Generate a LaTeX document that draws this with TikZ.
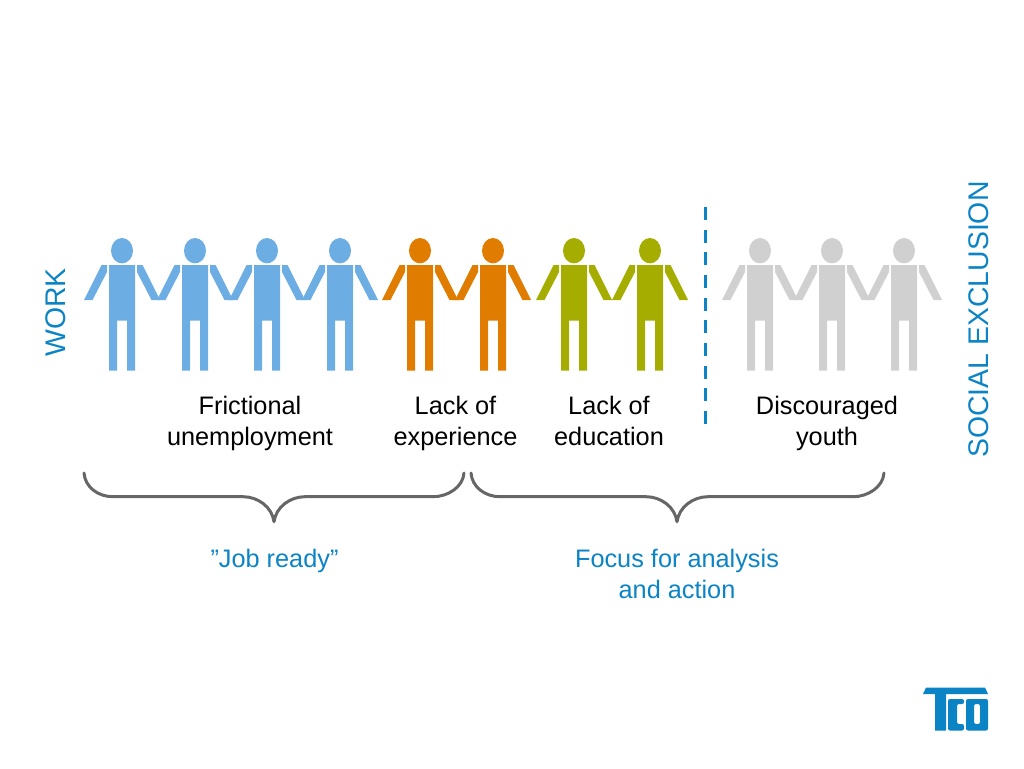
\documentclass[tikz,border=0pt]{standalone}
\usepackage{fontspec}
\setmainfont{Liberation Sans}
\usetikzlibrary{calc}

\definecolor{skyfig}{HTML}{6CADE3}
\definecolor{orangefig}{HTML}{E07C00}
\definecolor{greenfig}{HTML}{A5AD00}
\definecolor{greyfig}{HTML}{D0D0D0}
\definecolor{tcoblue}{HTML}{0B84C6}
\definecolor{bracegrey}{HTML}{666666}

\begin{document}
\begin{tikzpicture}[
  x=1pt,
  y=-1pt,
  line cap=butt,
  label/.style={align=center,font=\fontsize{25.3}{31}\selectfont,text=black,inner sep=0pt},
  bluelabel/.style={label,text=tcoblue},
  sidelabel/.style={bluelabel,rotate=90,font=\fontsize{28.4}{34}\selectfont},
  mybrace/.style={bracegrey,line width=3pt,line cap=round,line join=round}
]
\useasboundingbox (0,0) rectangle (1024,768);

% people: centre x / colour
\foreach \cx/\col in {122/skyfig,195/skyfig,267/skyfig,340/skyfig,
                      420/orangefig,493/orangefig,
                      574/greenfig,650/greenfig,
                      760/greyfig,832/greyfig,904/greyfig} {
  \begin{scope}[shift={(\cx,0)}]
    \fill [\col] (0,250.7) ellipse[x radius=11,y radius=12.7];
    \fill [\col] (-13,265) -- (13,265) -- (13,370.7) -- (5,370.7) -- (5,320.7)
      -- (-5,320.7) -- (-5,370.7) -- (-13,370.7) -- cycle;
    \fill [\col] (-20.5,265) -- (-15,265) -- (-15,272) -- (-29.5,300) -- (-38,300) -- cycle;
    \fill [\col] (15,265) -- (20.5,265) -- (38,300) -- (29.5,300) -- (15,272) -- cycle;
  \end{scope}
}

% divider
\draw [tcoblue,line width=3.5pt,dash pattern=on 13pt off 9.67pt] (705.7,207) -- (705.7,424);

% braces
\draw [mybrace] (84,473) .. controls (85,487) and (98,496.7) .. (113,496.7) -- (243,496.7)
  .. controls (258,496.7) and (272,507) .. (274,521.7)
  .. controls (276,507) and (290,496.7) .. (305,496.7) -- (433,496.7)
  .. controls (448,496.7) and (463,487) .. (464,473);
\draw [mybrace] (471,473) .. controls (472,487) and (485,496.7) .. (500,496.7) -- (646,496.7)
  .. controls (661,496.7) and (675,507) .. (677,521.7)
  .. controls (679,507) and (693,496.7) .. (708,496.7) -- (853,496.7)
  .. controls (868,496.7) and (883,487) .. (884,473);

% texts
\node [label] (frictional) at (250,423) {Frictional\\unemployment};
\node [label] (experience) at (455.5,423) {Lack of\\experience};
\node [label] (education) at (609,421) {Lack of\\education};
\node [label] (discouraged) at (827,423) {Discouraged\\youth};
\node [bluelabel] (jobready) at (274.5,561) {”Job ready”};
\node [bluelabel] (focus) at (677,574) {Focus for analysis\\and action};
\node [sidelabel] (work) at (56,312.5) {WORK};
\node [sidelabel] (exclusion) at (978.5,319.5) {SOCIAL EXCLUSION};

% logo
\fill [tcoblue] (923,694) -- (926,687.5) -- (985,687.5) -- (988,694) -- (946,694)
  -- (946,730.5) -- (935,730.5) -- (935,694) -- cycle;
\fill [tcoblue,even odd rule,rounded corners=2pt] (966,699) rectangle (988,730.5) (974,704) rectangle (980,724);
\fill [tcoblue,rounded corners=2pt] (948,699) -- (964,699) -- (964,704) -- (957,704) -- (957,724) -- (964,724)
  -- (964,730.5) -- (948,730.5) -- cycle;

\end{tikzpicture}
\end{document}
